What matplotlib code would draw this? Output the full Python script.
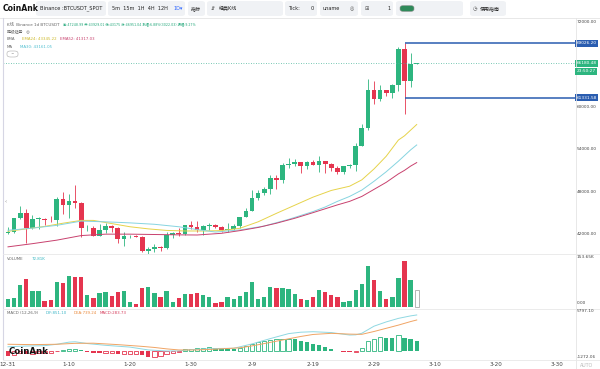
import matplotlib

matplotlib.use("Agg")  # headless
import matplotlib.pyplot as plt  # noqa: E402
import matplotlib.transforms as mtrans  # noqa: E402
from matplotlib.patches import FancyBboxPatch  # noqa: E402
from matplotlib.lines import Line2D  # noqa: E402

plt.rcParams["font.family"] = ["DejaVu Sans", "Noto Sans CJK SC"]

# BTCUSDT daily candles, index 0 = 12-31 ... index 67 = 3-7 (live)
opens = [42152, 42283, 44179, 44946, 42845, 44151, 44162, 43974, 43929, 46951,
         46110, 46654, 46340, 42782, 42847, 41732, 42511, 43138, 42777, 41262,
         41618, 41665, 41545, 39507, 39845, 40077, 39934, 41816, 42120, 42035,
         43300, 42946, 42582, 43075, 43185, 42992, 42583, 42658, 43084, 44318,
         45288, 47132, 47751, 48299, 49917, 49699, 51795, 51912, 52143, 51650,
         52122, 51779, 52284, 51839, 51304, 50731, 51571, 51734, 54476, 57037,
         62432, 61130, 62387, 61987, 63113, 68245, 63724, 66074]
highs = [42899, 44184, 45879, 45500, 44729, 44342, 44187, 44495, 47249, 47972,
         47695, 48970, 46500, 43257, 43079, 43400, 43578, 43198, 42930, 42195,
         41876, 41890, 41689, 40128, 40555, 40289, 42225, 42200, 42842, 43305,
         43882, 43745, 43285, 43488, 43380, 43119, 43494, 43399, 44368, 45614,
         48200, 48170, 48592, 50334, 50368, 52043, 52816, 52574, 52191, 52356,
         52485, 52985, 52372, 52009, 51548, 51685, 51955, 54938, 57588, 64000,
         63677, 63114, 62433, 63231, 68499, 69000, 67637, 66250]
lows = [41965, 42180, 44148, 40750, 42613, 42630, 43200, 43662, 43175, 44748,
        44300, 45606, 41500, 42437, 41720, 41718, 42050, 42200, 40683, 40280,
        41446, 41500, 39431, 38555, 39484, 39550, 39823, 41394, 41620, 41804,
        42683, 42276, 41884, 42566, 42880, 42222, 42258, 42574, 42788, 44314,
        45243, 46800, 47557, 47710, 48300, 49225, 51314, 51566, 50625, 51168,
        51716, 50760, 50625, 50926, 50521, 50552, 51280, 50901, 54451, 56691,
        60364, 60777, 61562, 61321, 62300, 59005, 62787, 66020]
closes = [42283, 44179, 44946, 42845, 44151, 44162, 43974, 43929, 46951, 46110,
          46654, 46340, 42782, 42847, 41732, 42511, 43138, 42777, 41262, 41618,
          41665, 41545, 39507, 39845, 40077, 39934, 41816, 42120, 42035, 43300,
          42946, 42582, 43075, 43185, 42992, 42583, 42658, 43084, 44318, 45288,
          47132, 47751, 48299, 49917, 49699, 51795, 51912, 52143, 51650, 52122,
          51779, 52284, 51839, 51304, 50731, 51571, 51734, 54476, 57037, 62432,
          61130, 62387, 61987, 63113, 68245, 63724, 66074, 66180]
volumes_k = [24.6, 27.6, 67.5, 86, 49, 49, 18.4, 21.5, 76.8, 73.7,
             95, 92, 92, 36.8, 27.6, 43, 46, 33.8, 46, 49,
             15.4, 9.2, 58, 61, 43, 30.7, 49, 15.4, 27.6, 40,
             40, 43, 36.8, 30.7, 12.3, 15.4, 30.7, 24.6, 33.8, 46,
             76.8, 24.6, 30.7, 61, 58, 58, 55, 40, 24.6, 21.5,
             30.7, 52, 46, 36.8, 30.7, 15.4, 18.4, 52, 70.6, 126,
             83, 49, 24.6, 30.7, 89, 141, 83, 52]

# indicator lines at these day indices
ema24_days = [0, 3, 6, 9, 12, 14, 17, 20, 23, 26, 29, 32, 35, 38, 41, 44, 47,
              50, 53, 56, 58, 60, 62, 64, 65, 66, 67]
ema24 = [42350, 42700, 43050, 43500, 43900, 43900, 43450, 43000, 42700, 42480,
         42400, 42400, 42450, 42780, 43700, 44900, 46050, 47200, 48150, 48750,
         49650, 51200, 53000, 55300, 55900, 56700, 57500]
ma30_days = [0, 4, 8, 12, 16, 20, 24, 28, 31, 34, 38, 42, 46, 50, 52, 54, 56,
             58, 60, 62, 64, 66, 67]
ma30 = [42500, 42800, 43200, 43800, 43700, 43550, 43350, 43000, 42600, 42250,
        42550, 43100, 44050, 45150, 45800, 46600, 47300, 48200, 49450, 50800,
        52300, 53900, 54600]
ema52_days = [0, 4, 8, 12, 16, 20, 24, 28, 31, 35, 38, 41, 44, 47, 50, 52, 54,
              56, 58, 60, 62, 64, 65, 66, 67]
ema52 = [40150, 40600, 41100, 41750, 41950, 41950, 41900, 41850, 41830, 42070,
         42450, 42900, 43500, 44200, 45000, 45550, 46100, 46600, 47300, 48300,
         49300, 50500, 51000, 51600, 52100]

macd_hist = [-700, -550, -350, -420, -380, -330, -300, -280, -50, 120,
             230, 280, 150, -100, -250, -350, -330, -320, -420, -400,
             -380, -370, -600, -850, -780, -650, -450, -280, -120, 235,
             330, 376, 423, 517, 423, 330, 282, 270, 470, 705,
             987, 1222, 1363, 1551, 1692, 1720, 1740, 1645, 1457, 1269,
             987, 800, 564, 235, 47, -94, -188, -141, 376, 1410,
             1645, 1927, 1833, 1786, 2303, 1786, 1645, 1410]
dif_days = [0, 3, 6, 8, 10, 11, 13, 16, 20, 23, 26, 28, 30, 34, 37, 40, 43, 46,
            48, 50, 53, 56, 57, 58, 60, 62, 64, 66, 67]
dif = [600, 700, 750, 950, 1250, 1300, 1050, 800, 550, 150, 0, 10, 200, 350,
       380, 1000, 1750, 2450, 2650, 2720, 2600, 2250, 2280, 2500, 3500, 4100,
       4600, 4950, 5080]
dea_days = [0, 4, 8, 11, 14, 18, 22, 24, 26, 28, 31, 34, 38, 40, 42, 45, 48, 50,
            53, 56, 58, 60, 62, 64, 66, 67]
dea = [950, 900, 950, 1080, 1100, 900, 650, 500, 300, 150, 150, 260, 450, 720,
       1050, 1550, 2050, 2330, 2490, 2380, 2350, 2750, 3200, 3650, 4150, 4370]

xtick_days = [0, 10, 20, 30, 40, 50, 60, 70, 80, 90]
xtick_labels = ["12-31", "1-10", "1-20", "1-30", "2-9", "2-19", "2-29",
                "3-10", "3-20", "3-30"]
price_ticks = [42000, 48000, 54000, 60000, 72000]
high_mark = 69026.20
low_mark = 61331.58
last_price = 66180.48

GREEN = "#2db57f"
RED = "#e5354f"
BLUE = "#2a5db0"
GREY = "#666666"

W, H = 600, 369
fig = plt.figure(figsize=(W / 100, H / 100), dpi=100)


def rect(x0, y0, x1, y1):
    # pixel box (top-left origin) -> figure fraction
    return [x0 / W, 1 - y1 / H, (x1 - x0) / W, (y1 - y0) / H]


def ftext(x, y, s, **kw):
    kw.setdefault("va", "center")
    kw.setdefault("fontsize", 3.2)
    return fig.text(x / W, 1 - y / H, s, **kw)


def fline(x0, y0, x1, y1, **kw):
    fig.add_artist(Line2D([x0 / W, x1 / W], [1 - y0 / H, 1 - y1 / H],
                          transform=fig.transFigure, **kw))


def fbox(x0, y0, x1, y1, fc="#f0f2f5", ec="none", lw=0.5):
    fig.add_artist(FancyBboxPatch((x0 / W, 1 - y1 / H), (x1 - x0) / W,
                                  (y1 - y0) / H,
                                  boxstyle="round,pad=0,rounding_size=0.006",
                                  transform=fig.transFigure, fc=fc, ec=ec,
                                  lw=lw))


ax = fig.add_axes(rect(3, 17.7, 575, 254))
axv = fig.add_axes(rect(3, 254, 575, 308.5))
axm = fig.add_axes(rect(3, 308.5, 575, 359))
for a in (ax, axv, axm):
    a.set_xlim(-0.82, 92.95)
    for s in a.spines.values():
        s.set_visible(False)
    a.set_yticks([])
    a.set_xticks([])

days = list(range(len(closes)))
cols = [GREEN if c >= o else RED for o, c in zip(opens, closes)]

# ---- candles
ax.set_ylim(39135, 72652)
ax.vlines(days, lows, highs, colors=cols, lw=0.6)
ax.bar(days, [max(abs(c - o), 70) for o, c in zip(opens, closes)],
       bottom=[min(o, c) for o, c in zip(opens, closes)],
       width=0.78, color=cols, lw=0)
ax.plot(ema24_days, ema24, color="#e6d34a", lw=0.7)
ax.plot(ma30_days, ma30, color="#86d4e0", lw=0.7)
ax.plot(ema52_days, ema52, color="#c8416e", lw=0.7)

ax.axhline(last_price, color="#4cb79c", lw=0.6, ls=(0, (1, 2)))
ax.hlines([high_mark, low_mark], 65, 92.95, color=BLUE, lw=1.1)

tr = mtrans.blended_transform_factory(fig.transFigure, ax.transData)
for v in price_ticks:
    ax.text(576.5 / W, v, f"{v:.2f}", transform=tr, fontsize=3.1,
            color="#444444", va="center")
for v, fc in ((high_mark, BLUE), (low_mark, BLUE), (last_price, GREEN)):
    ax.text(576.5 / W, v, f"{v:.2f}", transform=tr, fontsize=3.1,
            color="white", va="center",
            bbox=dict(boxstyle="square,pad=0.35", fc=fc, ec="none"))
ftext(576.5, 71.3, "23:50:27", color="white", fontsize=3.1,
      bbox=dict(boxstyle="square,pad=0.35", fc=GREEN, ec="none"))

# ---- volume
axv.set_ylim(-3.7, 162.8)
axv.bar(days[:-1], volumes_k[:-1], width=0.72, color=cols[:-1], lw=0)
axv.bar(days[-1:], volumes_k[-1:], width=0.72, color="white",
        edgecolor="#aaaaaa", lw=0.6)

# ---- macd
axm.set_ylim(-1128, 5992)
for i, v in enumerate(macd_hist):
    rising = i > 0 and v > macd_hist[i - 1]
    c = GREEN if v >= 0 else RED
    if rising:
        axm.bar(i, v, width=0.7, color="white", edgecolor=c, lw=0.6)
    else:
        axm.bar(i, v, width=0.7, color=c, lw=0)
axm.plot(dif_days, dif, color="#8fd8e2", lw=0.7)
axm.plot(dea_days, dea, color="#f0a464", lw=0.7)
axm.set_xticks(xtick_days)
axm.set_xticklabels(xtick_labels, fontsize=4.1, color="#444444")
axm.tick_params(axis="x", length=0, pad=2.2)

# ---- frame lines
fline(0, 17.7, 600, 17.7, color="#e4e4e4", lw=0.6)
fline(3, 17.7, 3, 359, color="#d6d6e4", lw=0.8)
fline(575.5, 17.7, 575.5, 369, color="#e4e4e4", lw=0.6)
fline(3, 254, 600, 254, color="#e8e8e8", lw=0.6)
fline(3, 308.5, 600, 308.5, color="#e8e8e8", lw=0.6)
fline(3, 359.5, 600, 359.5, color="#e8e8e8", lw=0.6)

ftext(576.5, 257.5, "153.65K", color="#444444", fontsize=3.1)
ftext(576.5, 303.5, "0.00", color="#444444", fontsize=3.1)
ftext(576.5, 311, "5797.10", color="#444444", fontsize=3.1)
ftext(576.5, 356.5, "-1272.06", color="#444444", fontsize=3.1)
ftext(587, 365.5, "AUTO", color="#bbbbbb", fontsize=3.4, ha="center")

# ---- header toolbar
ftext(3, 8.5, "CoinAnk", fontsize=5.6, fontweight="bold", color="#111111")
fbox(36, 1, 106, 16)
ftext(40, 8.5, "Binance :BTCUSDT_SPOT", fontsize=3.6, color="#222222")
fbox(108, 1, 185, 16)
ftext(112, 8.5, "5m  15m  1H  4H  12H", fontsize=3.6, color="#222222")
ftext(174, 8.5, "1D\u25BE", fontsize=3.6, color="#2962ff")
fbox(188, 1, 205, 16)
ftext(191, 8.5, "指标", fontsize=3.6, color="#222222")
fbox(207, 1, 283, 16)
ftext(211, 8.5, "\u21F5", fontsize=3.6, color="#444444")
ftext(219, 8.5, "经典K线", fontsize=3.6, color="#222222")
fbox(285, 1, 317, 16)
ftext(288, 8.5, "Tick:", fontsize=3.6, color="#222222")
ftext(311, 8.5, "0", fontsize=3.6, color="#222222")
fbox(320, 1, 358, 16)
ftext(323, 8.5, "uname", fontsize=3.6, color="#222222")
ftext(350, 8.5, "\u25CE", fontsize=3.6, color="#555555")
fbox(361, 1, 393, 16)
ftext(365, 8.5, "\u229E", fontsize=3.8, color="#555555")
ftext(387, 8.5, "1", fontsize=3.6, color="#222222")
fbox(396, 1, 463, 16)
fbox(400, 5.5, 414, 11.5, fc="#2f8a5a", ec="#9a9a9a", lw=0.4)
fbox(470, 1, 506, 16)
ftext(473, 8.5, "\u25F7", fontsize=3.8, color="#555555")
ftext(480, 8.5, "使用指南", fontsize=3.6, color="#222222")

# ---- legends inside the panels
ftext(7, 24.5, "K线  Binance 1d BTCUSDT", fontsize=3.0, color=GREY)
ftext(63, 24.5, "高:47248.99 开:43929.01 低:43175 收:46951.04 "
      "涨幅:6.88%(3022.03) 振幅:9.27%", fontsize=2.35, color="#22a77a")
ftext(7, 32, "超级趋势   \u25CE", fontsize=2.8, color=GREY)
ftext(7, 39.5, "EMA", fontsize=2.8, color=GREY)
ftext(22, 39.5, "EMA24: 43345.22", fontsize=2.8, color="#cdb92a")
ftext(60, 39.5, "EMA52: 41317.03", fontsize=2.8, color="#c8416e")
ftext(7, 46.5, "MA", fontsize=2.8, color=GREY)
ftext(20, 46.5, "MA30: 43161.05", fontsize=2.8, color="#4fbfd0")
fbox(7, 51, 18, 57, fc="white", ec="#aaaaaa", lw=0.4)
ftext(12.5, 54.5, "^", fontsize=3, color=GREY, ha="center")
ftext(4.5, 202, "\u2039", fontsize=4, color="#888888")

ftext(7, 259.3, "VOLUME", fontsize=2.9, color=GREY)
ftext(32, 259.3, "72.81K", fontsize=2.9, color="#35b6c0")
ftext(7, 313.3, "MACD (12,26,9)", fontsize=2.9, color=GREY)
ftext(46, 313.3, "DIF:851.10", fontsize=2.9, color="#3fb7c8")
ftext(74, 313.3, "DEA:739.24", fontsize=2.9, color="#ea8a3c")
ftext(100, 313.3, "MACD:283.73", fontsize=2.9, color="#d6405e")

ftext(9, 352, "CoinAnk", fontsize=6.2, fontweight="bold", color="#111111")

fig.savefig("out.png", dpi=100)
plt.close(fig)
